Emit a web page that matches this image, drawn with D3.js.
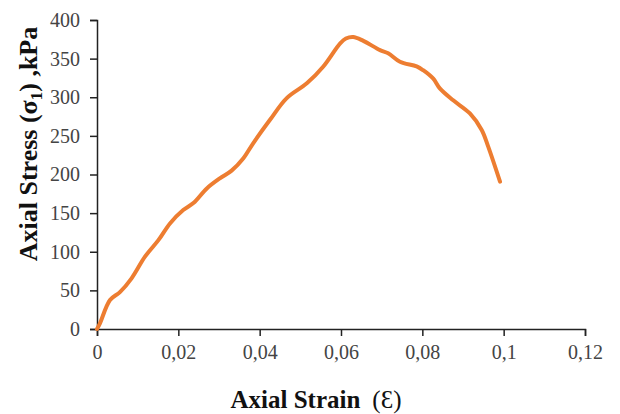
<!DOCTYPE html>
<html>
<head>
<meta charset="utf-8">
<script src="https://cdn.jsdelivr.net/npm/d3@7"></script>
<style>
  html, body { margin: 0; padding: 0; background: #fff; }
  svg { display: block; }
</style>
</head>
<body>
<svg id="chart" width="620" height="414"></svg>
<script>
const strain = [0, 0.0007, 0.0032, 0.0057, 0.0085, 0.0118, 0.0151, 0.018, 0.0212, 0.0237, 0.027, 0.0302, 0.0331, 0.036, 0.0384, 0.0425, 0.0466, 0.0516, 0.0556, 0.0598, 0.0612, 0.063, 0.0655, 0.0696, 0.0716, 0.0745, 0.0786, 0.0802, 0.0827, 0.0843, 0.0876, 0.0917, 0.0946, 0.0962, 0.0991];
const stress = [0, 7, 37.5, 48, 65.6, 93.6, 115, 137, 154, 163, 182, 195, 205, 221, 240.4, 270.5, 298.6, 318, 339.5, 369.8, 376, 378, 373, 361, 357, 346, 340, 335, 324, 311.5, 296, 279, 257.6, 236, 190.7];
const xTicks = [0, 0.02, 0.04, 0.06, 0.08, 0.1, 0.12];
const xTickLabels = ["0", "0,02", "0,04", "0,06", "0,08", "0,1", "0,12"];
const yTicks = [0, 50, 100, 150, 200, 250, 300, 350, 400];

const svg = d3.select("#chart");
const margin = {left: 97, right: 35, top: 20, bottom: 85};
const W = 620, H = 414;
const x = d3.scaleLinear().domain([0, 0.12]).range([margin.left, W - margin.right]);
const y = d3.scaleLinear().domain([0, 400]).range([H - margin.bottom, margin.top]);

const font = "'Liberation Serif', 'Times New Roman', serif";

const xAxis = svg.append("g")
  .attr("transform", `translate(0,${y(0)})`)
  .call(d3.axisBottom(x).tickValues(xTicks).tickFormat((d, i) => xTickLabels[i]).tickSize(7).tickPadding(9));
const yAxis = svg.append("g")
  .attr("transform", `translate(${x(0)},0)`)
  .call(d3.axisLeft(y).tickValues(yTicks).tickSize(7).tickPadding(10));

[xAxis, yAxis].forEach(g => {
  g.select(".domain").attr("stroke", "#222").attr("stroke-width", 1.5);
  g.selectAll(".tick line").attr("stroke", "#222").attr("stroke-width", 1.5);
  g.selectAll(".tick text").attr("fill", "#444").style("font-family", font).style("font-size", "20px");
});

const pts = strain.map((s, i) => [s, stress[i]]);
svg.append("path")
  .datum(pts)
  .attr("fill", "none")
  .attr("stroke", "#ED7D31")
  .attr("stroke-width", 4)
  .attr("stroke-linecap", "round")
  .attr("stroke-linejoin", "round")
  .attr("d", d3.line().x(d => x(d[0])).y(d => y(d[1])).curve(d3.curveCatmullRom.alpha(0.5)));

svg.append("text")
  .attr("x", 316).attr("y", 408)
  .attr("text-anchor", "middle")
  .style("font-family", font).style("font-size", "25px").attr("fill", "#111")
  .html('<tspan font-weight="bold">Axial Strain</tspan><tspan dx="12">(Ɛ)</tspan>');

const yt = svg.append("text")
  .attr("transform", "translate(37,144) rotate(-90)")
  .attr("text-anchor", "middle")
  .style("font-family", font).style("font-size", "26px").attr("font-weight", "bold").attr("fill", "#111");
yt.append("tspan").text("Axial Stress (σ");
yt.append("tspan").attr("dy", 5).style("font-size", "17px").text("1");
yt.append("tspan").attr("dy", -5).text(") ,kPa");
</script>
</body>
</html>
